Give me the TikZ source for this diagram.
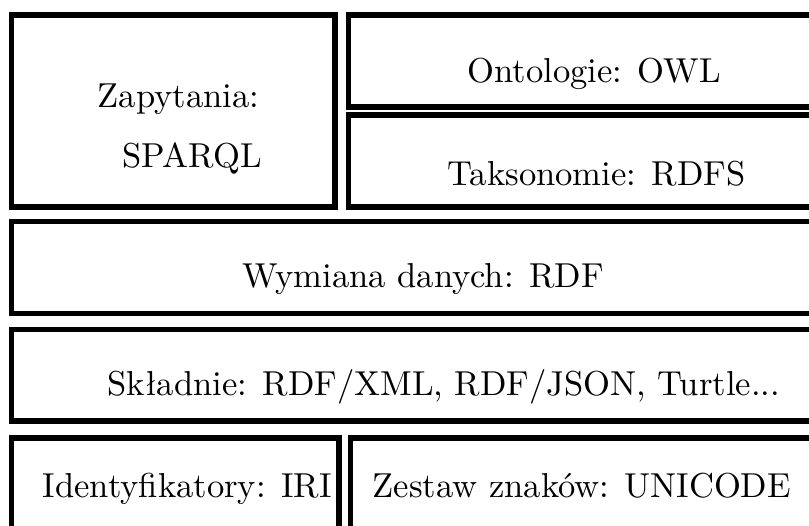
\documentclass[tikz,border=0pt]{standalone}
\usepackage{fontspec}
\usepackage{tikz}
\usetikzlibrary{calc}

\tikzset{
  layerbox/.style={line width=1.5pt},
  layertext/.style={anchor=base west, inner sep=0pt, font=\fontsize{10}{12}\selectfont}
}

\begin{document}
\begin{tikzpicture}[x=0.289pt,y=-0.289pt]
\useasboundingbox (0,0) rectangle (809,525);
\clip (0,0) rectangle (809,525);

% top row
\draw[layerbox] (11.5,15) rectangle (335,207);
\draw[layerbox] (348.5,15) rectangle (850,107);
\draw[layerbox] (348.5,115) rectangle (850,207);

% full width layers
\draw[layerbox] (11.5,221.5) rectangle (850,313.5);
\draw[layerbox] (11.5,329.5) rectangle (850,421);

% bottom row
\draw[layerbox] (11.5,438) rectangle (339,560);
\draw[layerbox] (350.5,438) rectangle (850,560);

\node[layertext] (zap) at (97,107) {Zapytania:};
\node[layertext] (sparql) at (122,167) {SPARQL};
\node[layertext] (owl) at (467,82) {Ontologie: OWL};
\node[layertext] (rdfs) at (447,185) {Taksonomie: RDFS};
\node[layertext] (rdf) at (242,287) {Wymiana danych: RDF};
\node[layertext] (skl) at (107,395) {Składnie: RDF/XML, RDF/JSON, Turtle...};
\node[layertext] (iri) at (42,497) {Identyfikatory: IRI};
\node[layertext] (uni) at (372,497) {Zestaw znaków: UNICODE};
\end{tikzpicture}
\end{document}
